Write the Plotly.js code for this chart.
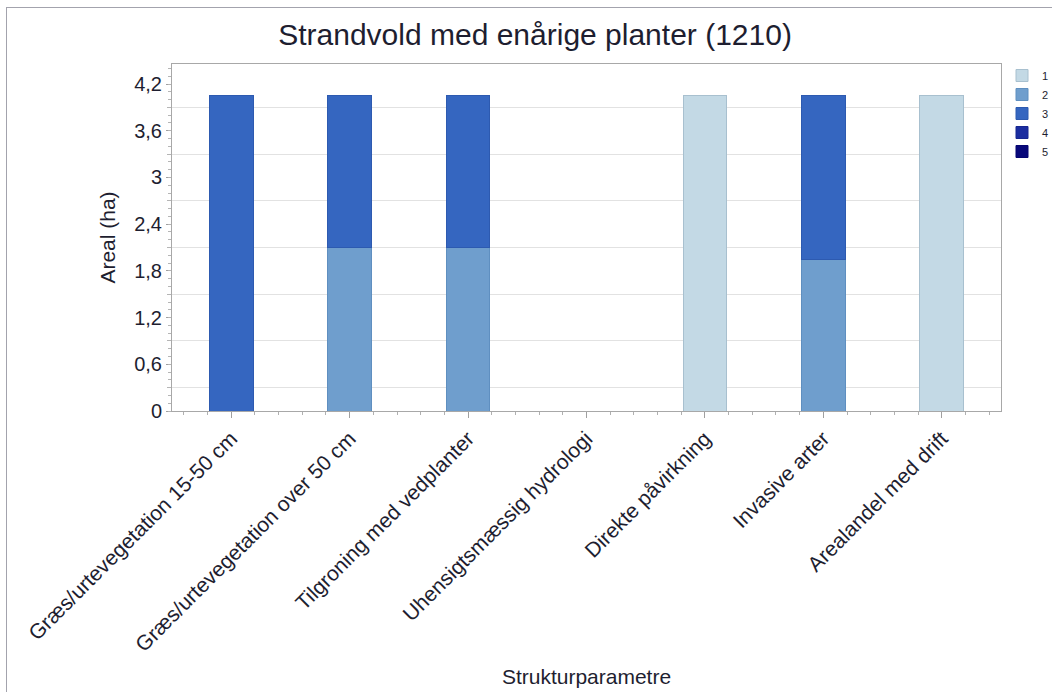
<!DOCTYPE html>
<html>
<head>
<meta charset="utf-8">
<script src="https://cdn.plot.ly/plotly-3.0.1.min.js"></script>
<style>
html,body{margin:0;padding:0;background:#fff;}
#frame{position:absolute;left:6px;top:7px;width:1100px;height:800px;border-left:1px solid #a3a3ad;border-top:1px solid #a3a3ad;pointer-events:none;}
#chart{width:1052px;height:692px;}
</style>
</head>
<body>
<div id="chart"></div>
<div id="frame"></div>
<script>
const categories = [
  "Græs/urtevegetation 15-50 cm",
  "Græs/urtevegetation over 50 cm",
  "Tilgroning med vedplanter",
  "Uhensigtsmæssig hydrologi",
  "Direkte påvirkning",
  "Invasive arter",
  "Arealandel med drift"
];
const seriesNames = ["1", "2", "3", "4", "5"];
const s1 = [0, 0, 0, 0, 4.05, 0, 4.05];
const s2 = [0, 2.1, 2.1, 0, 0, 1.95, 0];
const s3 = [4.05, 1.95, 1.95, 0, 0, 2.1, 0];
const s4 = [0, 0, 0, 0, 0, 0, 0];
const s5 = [0, 0, 0, 0, 0, 0, 0];
const seriesValues = [s1, s2, s3, s4, s5];

const fills = ["#c3d9e5", "#6f9ecd", "#3566c0", "#1b2da0", "#08087a"];
const lines = ["#a8c0cf", "#5f8fc0", "#2d5ab0", "#162690", "#050570"];

const xIdx = categories.map((c, i) => i);

const traces = seriesValues.map((vals, k) => ({
  type: "bar",
  name: seriesNames[k],
  x: xIdx,
  y: vals.map(v => (v === 0 ? null : v)),
  width: 0.37,
  marker: {color: fills[k], line: {color: lines[k], width: 1}},
  hoverinfo: "y+name"
}));

const font = "Liberation Sans, Arial, sans-serif";
const txt = "#1e1e30";

const layout = {
  width: 1052,
  height: 692,
  paper_bgcolor: "#ffffff",
  plot_bgcolor: "#ffffff",
  barmode: "stack",
  separators: ",.",
  font: {family: font, color: txt},
  margin: {l: 172, r: 51, t: 64, b: 281},
  title: {
    text: "Strandvold med enårige planter (1210)",
    font: {size: 30, family: font, color: txt},
    xref: "container", x: 0.5086, xanchor: "center",
    yref: "container", y: 1 - 34/692, yanchor: "middle"
  },
  xaxis: {
    range: [-0.5, 6.5],
    tickmode: "array",
    tickvals: xIdx,
    ticktext: categories,
    tickangle: -45,
    tickfont: {size: 21, family: font, color: txt},
    ticks: "outside", ticklen: 6, tickcolor: "#a0a0a0",
    minor: {tickmode: "linear", tick0: 0, dtick: 0.2, ticks: "outside", ticklen: 3, tickcolor: "#b0b0b0", showgrid: false},
    showgrid: false,
    zeroline: false,
    showline: true, linecolor: "#a8a8a8", linewidth: 1, mirror: true,
    automargin: false,
    title: {text: "Strukturparametre", font: {size: 21, family: font, color: txt}, standoff: 14},
    fixedrange: true
  },
  yaxis: {
    range: [0, 4.457],
    tick0: 0, dtick: 0.6,
    tickfont: {size: 20, family: font, color: txt},
    ticks: "outside", ticklen: 5, tickcolor: "#a0a0a0",
    showgrid: false,
    minor: {tick0: 0, dtick: 0.3, showgrid: true, gridcolor: "#e2e2e2", gridwidth: 1, ticks: "outside", ticklen: 4, tickcolor: "#b5b5b5"},
    zeroline: false,
    showline: true, linecolor: "#a8a8a8", linewidth: 1, mirror: true,
    title: {text: "Areal (ha)", font: {size: 21, family: font, color: txt}, standoff: 12},
    fixedrange: true
  },
  yaxis2: {
    overlaying: "y",
    side: "left",
    range: [0, 4.457],
    tick0: 0, dtick: 0.1,
    ticks: "outside", ticklen: 3, tickcolor: "#b5b5b5",
    showticklabels: false,
    showgrid: false, zeroline: false, showline: false,
    fixedrange: true
  },
  legend: {
    xref: "container", x: 1002/1052, xanchor: "left",
    yref: "container", y: 1 - 61/692, yanchor: "top",
    font: {size: 11, family: font, color: txt},
    bgcolor: "rgba(0,0,0,0)",
    traceorder: "normal",
    itemwidth: 30
  },
  bargap: 0.63
};

const ghost = {type: "scatter", x: [0], y: [0], yaxis: "y2", mode: "markers", marker: {opacity: 0}, showlegend: false, hoverinfo: "skip"};

Plotly.newPlot("chart", traces.concat([ghost]), layout, {displayModeBar: false, staticPlot: true});
</script>
</body>
</html>
